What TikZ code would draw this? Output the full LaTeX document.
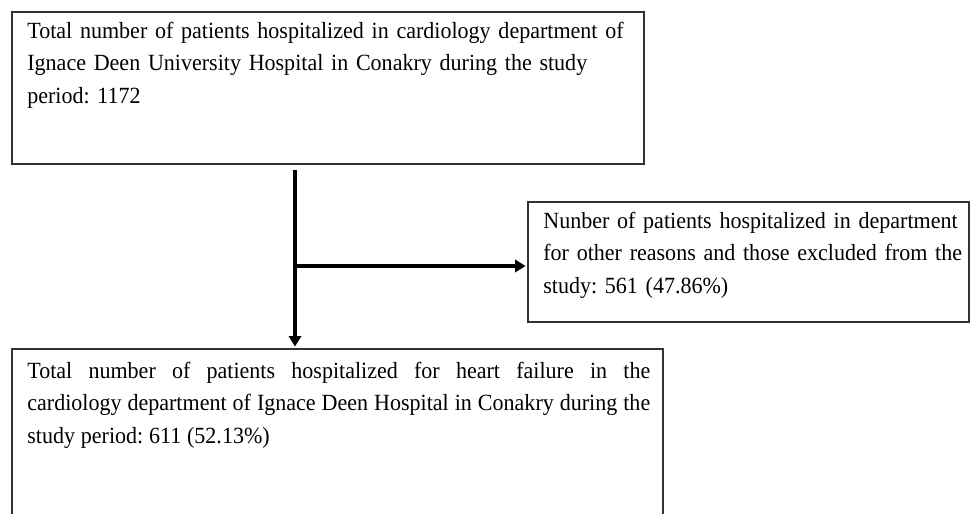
\documentclass[tikz,border=0pt]{standalone}
\usepackage{fontspec}
\setmainfont{Liberation Serif}[FakeStretch=0.95]
\usetikzlibrary{positioning,arrows.meta}
\tikzset{>={Triangle[length=6pt,width=7pt]}}
\tikzset{
  box/.style={draw=black!80, line width=0.8pt, rectangle, inner sep=0pt},
  txt/.style={anchor=base west, inner sep=0pt, align=left,
    font=\fontsize{13.2}{18.7}\selectfont\frenchspacing},
  flow/.style={->, line width=2.3pt}
}

\begin{document}
\begin{tikzpicture}[x=0.02cm, y=-0.02cm]
  \path[use as bounding box, clip] (0,0) rectangle (971,514);
  % boxes
  \node[box, minimum width=12.64cm, minimum height=3.04cm] (total) at (328,88) {};
  \node[box, minimum width=8.82cm, minimum height=2.4cm] (excl) at (748.5,262) {};
  \node[box, minimum width=13.02cm, minimum height=4cm] (hf) at (337.5,449) {};
  % texts
  \node[txt, text width=12.5cm] (totaltxt) at (27,38)
    {Total number of patients hospitalized in cardiology department of\\
     Ignace Deen University Hospital in Conakry during the study\\
     period: 1172};
  \node[txt, text width=9cm] (excltxt) at (543,228)
    {Nunber of patients hospitalized in department\\
     for other reasons and those excluded from the\\
     study: 561 (47.86\%)};
  \node[txt, text width=12.5cm] (hftxt) at (27,378)
    {\spaceskip=0.25em plus 1em minus 0.2em
     \makebox[12.46cm][s]{Total number of patients hospitalized for heart failure in the}\\
     \makebox[12.46cm][s]{cardiology department of Ignace Deen Hospital in Conakry during the}\\
     study period: 611 (52.13\%)};
  % arrows
  \coordinate (split) at (295,266);
  \draw[flow, shorten <=3pt, shorten >=1pt] (total.south -| split) -- (hf.north -| split);
  \draw[flow, shorten >=1pt] (split) -- (split -| excl.west);
\end{tikzpicture}
\end{document}
